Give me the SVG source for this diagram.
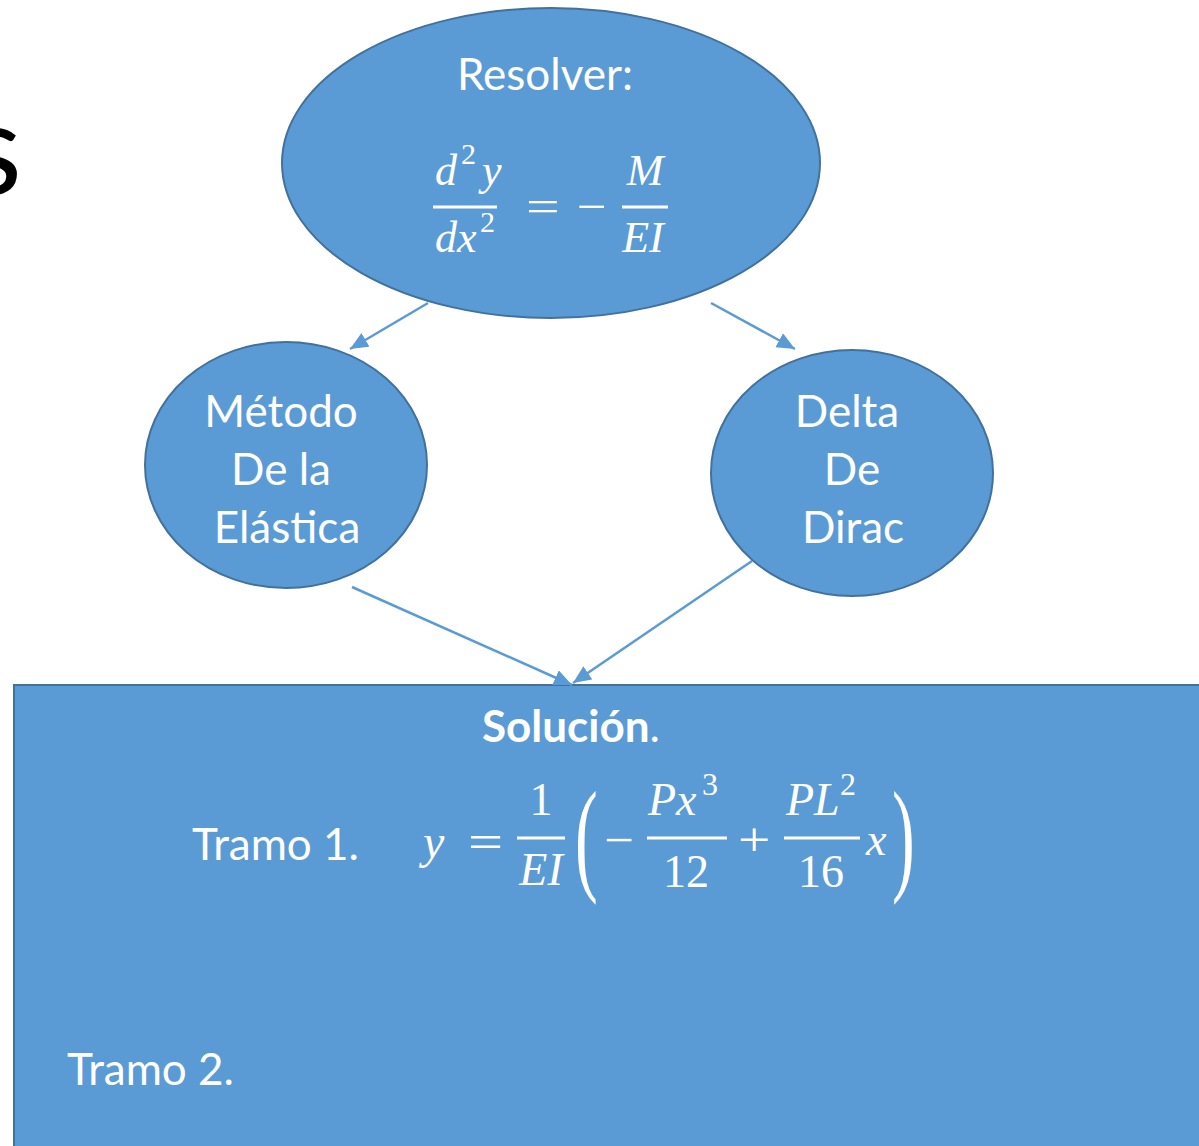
<svg xmlns="http://www.w3.org/2000/svg" width="1199" height="1146" viewBox="0 0 1199 1146">
<style>
.node{fill:#5b9bd5;stroke:#41719c;stroke-width:2}
.lbl{font-family:Lato,"Liberation Sans",sans-serif;fill:#fff;font-size:44px}
.m{font-family:"Liberation Serif",serif;fill:#fff;font-style:italic}
.n{font-family:"Liberation Serif",serif;fill:#fff}
.bar{stroke:#fff;stroke-width:3}
.conn{stroke:#5b9bd5;stroke-width:2.5;fill:none}
</style>
<defs>
<marker id="ah" markerUnits="userSpaceOnUse" markerWidth="20" markerHeight="20" refX="18" refY="8" orient="auto">
<path d="M0,0 L18,8 L0,16 Z" fill="#5b9bd5"/>
</marker>
</defs>
<rect width="1199" height="1146" fill="#fff"/>
<text x="22" y="194" text-anchor="end" font-family="Lato,'Liberation Sans',sans-serif" font-size="128" fill="#000">s</text>

<g id="solucion">
<rect class="node" x="14" y="685" width="1200" height="480"/>
<text class="lbl" x="571" y="742" text-anchor="middle" font-size="49"><tspan font-weight="bold">Solución</tspan>.</text>
<text class="lbl" x="192" y="860">Tramo 1.</text>
<text class="lbl" x="67" y="1085">Tramo 2.</text>
<text class="m" x="423" y="858" font-size="48">y</text>
<text class="n" x="468" y="858" font-size="48" transform="translate(468 858) scale(1.3 1) translate(-468 -858)">=</text>
<text class="n" x="541" y="815" font-size="46" text-anchor="middle">1</text>
<line class="bar" x1="517" y1="838" x2="565" y2="838"/>
<text class="m" x="541" y="885" font-size="46" text-anchor="middle">EI</text>
<text class="n" x="575" y="878" font-size="124" transform="translate(575 878) scale(0.55 1) translate(-575 -878)">(</text>
<text class="n" x="604" y="856" font-size="48" transform="translate(604 856) scale(1.1 1) translate(-604 -856)">−</text>
<text class="m" x="648" y="815" font-size="46">Px</text>
<text class="n" x="702" y="795" font-size="32">3</text>
<line class="bar" x1="647" y1="838" x2="727" y2="838"/>
<text class="n" x="686" y="887" font-size="46" text-anchor="middle">12</text>
<text class="n" x="738" y="856" font-size="48" transform="translate(738 856) scale(1.2 1) translate(-738 -856)">+</text>
<text class="m" x="786" y="815" font-size="46">PL</text>
<text class="n" x="840" y="795" font-size="32">2</text>
<line class="bar" x1="784" y1="838" x2="860" y2="838"/>
<text class="n" x="821" y="887" font-size="46" text-anchor="middle">16</text>
<text class="m" x="866" y="855" font-size="46">x</text>
<text class="n" x="892" y="878" font-size="124" transform="translate(892 878) scale(0.55 1) translate(-892 -878)">)</text>
</g>

<g id="connectors">
<line class="conn" x1="428" y1="303" x2="350" y2="349" marker-end="url(#ah)"/>
<line class="conn" x1="711" y1="303" x2="795" y2="349" marker-end="url(#ah)"/>
<line class="conn" x1="352" y1="587" x2="572" y2="685" marker-end="url(#ah)"/>
<line class="conn" x1="752" y1="561" x2="573" y2="683" marker-end="url(#ah)"/>
</g>

<g id="resolver">
<ellipse class="node" cx="551" cy="163" rx="269" ry="155"/>
<text class="lbl" x="545" y="90" text-anchor="middle">Resolver:</text>
<text class="m" x="435" y="185" font-size="44">d</text>
<text class="n" x="461" y="164" font-size="30">2</text>
<text class="m" x="482" y="185" font-size="44">y</text>
<line class="bar" x1="433" y1="207" x2="497" y2="207"/>
<text class="m" x="435" y="252" font-size="44">dx</text>
<text class="n" x="480" y="232" font-size="30">2</text>
<text class="n" x="526" y="222" font-size="46" transform="translate(526 222) scale(1.3 1) translate(-526 -222)">=</text>
<text class="n" x="577" y="222" font-size="46" transform="translate(577 222) scale(1.15 1) translate(-577 -222)">−</text>
<text class="m" x="645" y="185" font-size="44" text-anchor="middle">M</text>
<line class="bar" x1="622" y1="207" x2="668" y2="207"/>
<text class="m" x="643" y="252" font-size="44" text-anchor="middle">EI</text>
</g>

<g id="metodo">
<ellipse class="node" cx="286" cy="465" rx="141" ry="123"/>
<text class="lbl" x="281" y="427" text-anchor="middle">Método</text>
<text class="lbl" x="281" y="485" text-anchor="middle">De la</text>
<text class="lbl" x="287" y="543" text-anchor="middle">Elástica</text>
</g>

<g id="delta">
<ellipse class="node" cx="852" cy="473" rx="141" ry="123"/>
<text class="lbl" x="847" y="427" text-anchor="middle">Delta</text>
<text class="lbl" x="852" y="485" text-anchor="middle">De</text>
<text class="lbl" x="853" y="543" text-anchor="middle">Dirac</text>
</g>
</svg>
